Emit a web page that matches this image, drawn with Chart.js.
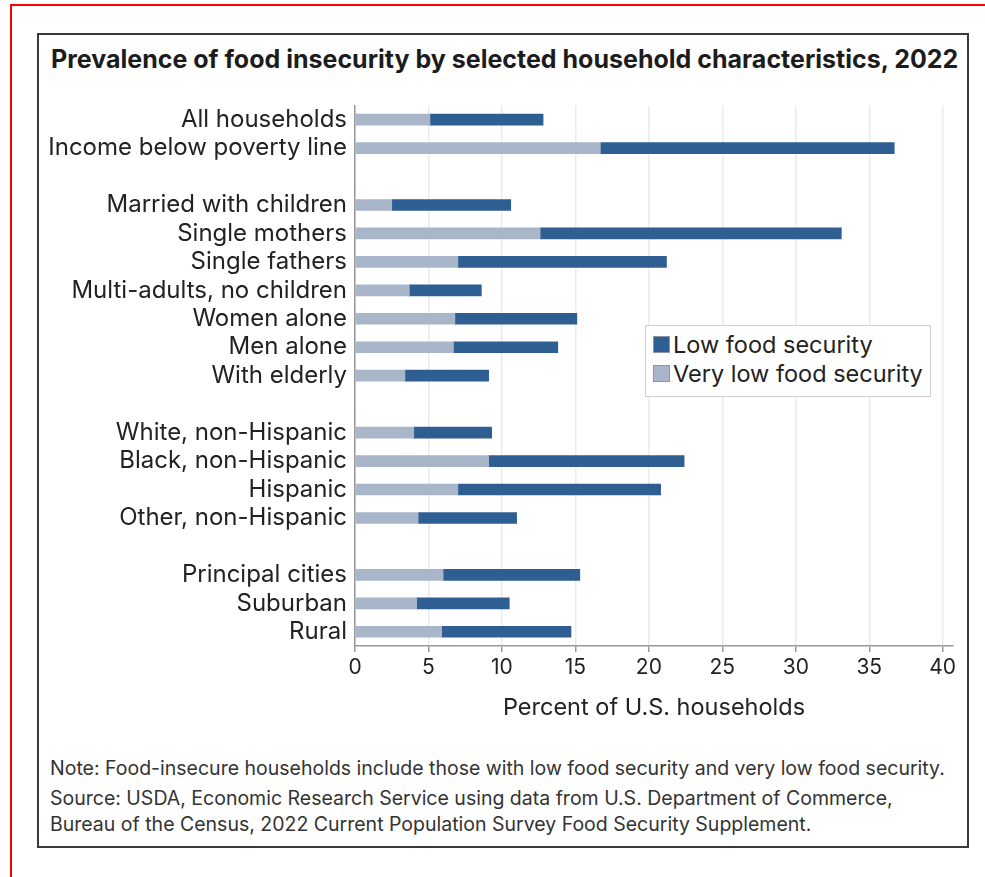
<!DOCTYPE html>
<html>
<head>
<meta charset="utf-8">
<title>Food insecurity by household characteristics, 2022</title>
<script src="https://cdn.jsdelivr.net/npm/chart.js@4/dist/chart.umd.min.js"></script>
<style>
  html, body { margin: 0; padding: 0; background: #fff; }
  body { width: 985px; height: 877px; position: relative; overflow: hidden; font-family: Inter, "Liberation Sans", sans-serif; color: #222; }
  .edge-top { position: absolute; left: 10px; top: 4px; right: 0; height: 2px; background: #ff0000; }
  .edge-left { position: absolute; left: 10px; top: 4px; bottom: 0; width: 2px; background: #ff0000; }
  .frame { position: absolute; left: 37px; top: 33px; width: 932px; height: 815px; box-sizing: border-box; border: 2px solid #3a3a3a; }
  .title { position: absolute; left: 51px; top: 44px; font-weight: 700; font-size: 25px; color: #1c1c1c; white-space: nowrap; }
  #wrap { position: absolute; left: 40px; top: 83px; width: 925px; height: 647px; }
  .legend { position: absolute; left: 645px; top: 325px; width: 286px; height: 72px; box-sizing: border-box; border: 1.5px solid #cfcfcf; background: #fff; padding: 4px 0 0 7px; }
  .legend .row { display: flex; align-items: center; height: 29px; font-size: 23.5px; color: #222; white-space: nowrap; }
  .legend .sw { width: 17px; height: 17px; box-sizing: border-box; margin-right: 3px; border: 1px solid #8a96a8; }
  .notes { position: absolute; left: 50px; top: 755px; font-size: 19.5px; color: #333; white-space: nowrap; }
  .notes p { margin: 0; line-height: 26px; }
  .notes p.note { margin-bottom: 4px; }
</style>
</head>
<body>
<div class="edge-top"></div>
<div class="edge-left"></div>
<div class="frame"></div>
<div class="title">Prevalence of food insecurity by selected household characteristics, 2022</div>
<div id="wrap"><canvas id="chart" width="925" height="647"></canvas></div>
<div class="legend" id="legend"></div>
<div class="notes">
  <p class="note">Note: Food-insecure households include those with low food security and very low food security.</p>
  <p>Source: USDA, Economic Research Service using data from U.S. Department of Commerce,</p>
  <p>Bureau of the Census, 2022 Current Population Survey Food Security Supplement.</p>
</div>
<script>
// Empty strings leave a blank row between the groups
const categories = [
  'All households', 'Income below poverty line', '',
  'Married with children', 'Single mothers', 'Single fathers', 'Multi-adults, no children',
  'Women alone', 'Men alone', 'With elderly', '',
  'White, non-Hispanic', 'Black, non-Hispanic', 'Hispanic', 'Other, non-Hispanic', '',
  'Principal cities', 'Suburban', 'Rural'
];

// percent of households, very low food security
const veryLowFood = [5.1, 16.7, null, 2.5, 12.6, 7.0, 3.7, 6.8, 6.7, 3.4, null, 4.0, 9.1, 7.0, 4.3, null, 6.0, 4.2, 5.9];
// percent of households, low food security (stacked after very low)
const lowFood = [7.7, 20.0, null, 8.1, 20.5, 14.2, 4.9, 8.3, 7.1, 5.7, null, 5.3, 13.3, 13.8, 6.7, null, 9.3, 6.3, 8.8];

const xTicks = [0, 5, 10, 15, 20, 25, 30, 35, 40];

const seriesNames = ['Low food security', 'Very low food security'];
const seriesColors = ['#2f5e92', '#a9b6c9'];

Chart.defaults.font.family = 'Inter, "Liberation Sans", sans-serif';
Chart.defaults.color = '#222';

new Chart(document.getElementById('chart'), {
  type: 'bar',
  data: {
    labels: categories,
    datasets: [
      { label: seriesNames[1], data: veryLowFood, backgroundColor: seriesColors[1], barThickness: 11, borderWidth: 0 },
      { label: seriesNames[0], data: lowFood, backgroundColor: seriesColors[0], barThickness: 11, borderWidth: 0 }
    ]
  },
  options: {
    indexAxis: 'y',
    responsive: false,
    animation: false,
    layout: { padding: { top: 12, right: 12, left: 0, bottom: 0 } },
    plugins: { legend: { display: false }, tooltip: { enabled: false } },
    scales: {
      x: {
        stacked: true,
        min: 0,
        max: 40.7,
        afterBuildTicks: s => { s.ticks = xTicks.map(v => ({ value: v })); },
        afterFit: s => { s.height = 84; },
        ticks: { includeBounds: false, padding: 3, font: { size: 21 }, color: '#222' },
        grid: { color: '#ebebeb', lineWidth: 1.5, tickLength: 6, tickColor: '#999' },
        border: { color: '#999', width: 1.5 },
        title: { display: true, text: 'Percent of U.S. households', font: { size: 23.5 }, color: '#222', padding: { top: 0, bottom: 8 } }
      },
      y: {
        stacked: true,
        afterFit: s => { s.width = 315; },
        ticks: { padding: 8, font: { size: 24 }, color: '#222', autoSkip: false },
        grid: { display: false, drawTicks: false },
        border: { color: '#999', width: 1.5 }
      }
    }
  }
});

// Legend box inside the plot, dark series first
const legendEl = document.getElementById('legend');
seriesNames.forEach((name, i) => {
  const row = document.createElement('div');
  row.className = 'row';
  row.innerHTML = `<span class="sw" style="background:${seriesColors[i]}"></span>${name}`;
  legendEl.appendChild(row);
});
</script>
</body>
</html>
